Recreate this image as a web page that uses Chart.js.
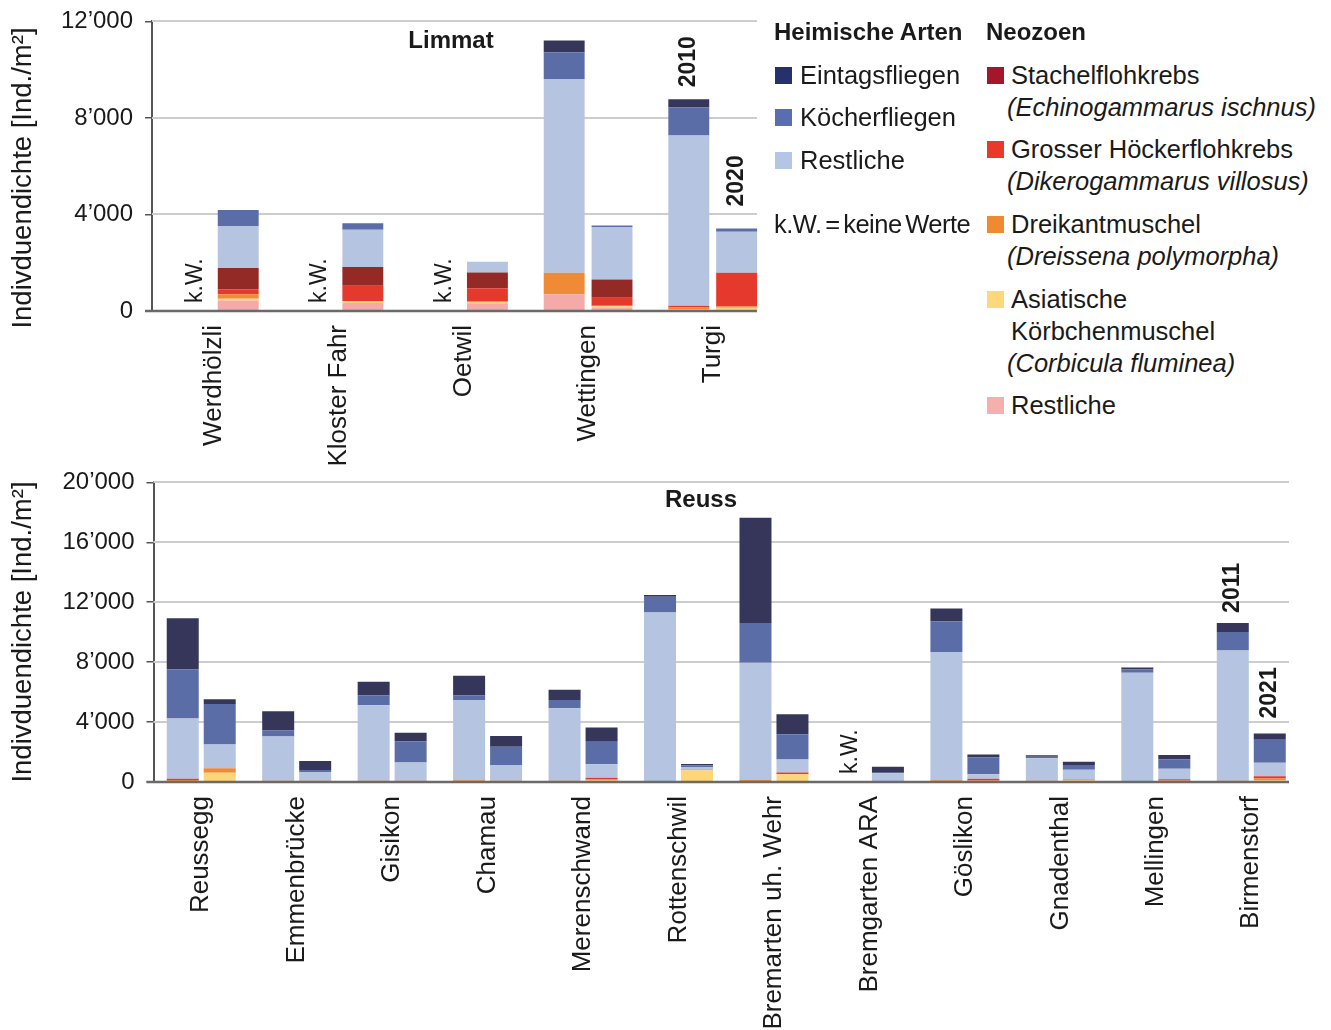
<!DOCTYPE html>
<html>
<head>
<meta charset="utf-8">
<script src="https://cdn.jsdelivr.net/npm/chart.js@4.4.1/dist/chart.umd.min.js"></script>
<style>
body { margin: 0; background: #fff; font-family: "Liberation Sans", Arial, sans-serif; color: #1a1a1a; }
#wrap { position: relative; width: 1331px; height: 1030px; overflow: hidden; }
canvas { position: absolute; }
#limmat { left: 0; top: -5px; }
#reuss { left: 0; top: 456px; }
.lg { position: absolute; font-size: 25.5px; line-height: 30px; white-space: nowrap; }
.b { font-weight: bold; font-size: 24px; }
.i { font-style: italic; }
.sq { position: absolute; width: 17px; height: 17px; }
</style>
</head>
<body>
<div id="wrap">
  <canvas id="limmat" width="800" height="475"></canvas>
  <canvas id="reuss" width="1331" height="574"></canvas>

  <div class="lg b" style="left:774px;top:17px">Heimische Arten</div>
  <div class="lg b" style="left:986px;top:17px">Neozoen</div>

  <div class="sq" style="left:775px;top:67px;background:#26306a"></div>
  <div class="lg" style="left:800px;top:60px">Eintagsfliegen</div>
  <div class="sq" style="left:775px;top:109px;background:#5a6db0"></div>
  <div class="lg" style="left:800px;top:102px">Köcherfliegen</div>
  <div class="sq" style="left:775px;top:152px;background:#b3c6e3"></div>
  <div class="lg" style="left:800px;top:145px">Restliche</div>
  <div class="lg" style="left:774px;top:209px;letter-spacing:-0.5px;word-spacing:-3px">k.W. = keine Werte</div>

  <div class="sq" style="left:987px;top:67px;background:#a3162b"></div>
  <div class="lg" style="left:1011px;top:60px">Stachelflohkrebs</div>
  <div class="lg i" style="left:1007px;top:92px">(Echinogammarus ischnus)</div>
  <div class="sq" style="left:987px;top:141px;background:#e8392b"></div>
  <div class="lg" style="left:1011px;top:134px">Grosser Höckerflohkrebs</div>
  <div class="lg i" style="left:1007px;top:166px">(Dikerogammarus villosus)</div>
  <div class="sq" style="left:987px;top:216px;background:#f08a30"></div>
  <div class="lg" style="left:1011px;top:209px">Dreikantmuschel</div>
  <div class="lg i" style="left:1007px;top:241px">(Dreissena polymorpha)</div>
  <div class="sq" style="left:987px;top:291px;background:#fed77a"></div>
  <div class="lg" style="left:1011px;top:284px">Asiatische</div>
  <div class="lg" style="left:1011px;top:316px">Körbchenmuschel</div>
  <div class="lg i" style="left:1007px;top:348px">(Corbicula fluminea)</div>
  <div class="sq" style="left:987px;top:397px;background:#f5b0ae"></div>
  <div class="lg" style="left:1011px;top:390px">Restliche</div>
</div>

<script>
// ---- Limmat (2010 / 2020), null = k.W.
const limmatSites = ['Werdhölzli', 'Kloster Fahr', 'Oetwil', 'Wettingen', 'Turgi'];
const limmatTicks = [0, 4000, 8000, 12000];

const limEintags10  = [null, null, null, 490, 340];
const limKoecher10  = [null, null, null, 1110, 1160];
const limRestHeim10 = [null, null, null, 8020, 7050];
const limStachel10  = [null, null, null, 0, 0];
const limGrosser10  = [null, null, null, 0, 80];
const limDreikant10 = [null, null, null, 900, 80];
const limAsiat10    = [null, null, null, 0, 0];
const limRestNeo10  = [null, null, null, 690, 60];

const limEintags20  = [0, 0, 0, 0, 0];
const limKoecher20  = [670, 270, 0, 60, 140];
const limRestHeim20 = [1740, 1550, 440, 2170, 1690];
const limStachel20  = [880, 770, 660, 760, 0];
const limGrosser20  = [210, 640, 550, 330, 1400];
const limDreikant20 = [180, 0, 20, 20, 60];
const limAsiat20    = [70, 80, 50, 50, 80];
const limRestNeo20  = [440, 330, 320, 150, 50];

// ---- Reuss (2011 / 2021)
const reussSites = ['Reussegg', 'Emmenbrücke', 'Gisikon', 'Chamau', 'Merenschwand', 'Rottenschwil',
  'Bremarten uh. Wehr', 'Bremgarten ARA', 'Göslikon', 'Gnadenthal', 'Mellingen', 'Birmenstorf'];
const reussTicks = [0, 4000, 8000, 12000, 16000, 20000];

const reuEintags11  = [3420, 1290, 910, 1310, 690, 130, 7020, null, 870, 100, 110, 600];
const reuKoecher11  = [3270, 400, 650, 310, 540, 1050, 2660, null, 2040, 100, 240, 1240];
const reuRestHeim11 = [4020, 2950, 5040, 5360, 4840, 11260, 7830, null, 8560, 1500, 7240, 8690];
const reuStachel11  = [0, 0, 0, 0, 0, 0, 0, null, 0, 0, 0, 0];
const reuGrosser11  = [80, 0, 0, 0, 0, 0, 0, null, 0, 0, 0, 0];
const reuDreikant11 = [140, 90, 90, 110, 90, 50, 100, null, 110, 80, 50, 90];
const reuAsiat11    = [0, 0, 0, 0, 0, 0, 30, null, 0, 0, 0, 0];
const reuRestNeo11  = [0, 0, 0, 0, 0, 0, 0, null, 0, 0, 0, 0];

const reuEintags21  = [330, 600, 580, 710, 950, 90, 1350, 400, 200, 230, 290, 420];
const reuKoecher21  = [2690, 130, 1400, 1230, 1510, 110, 1670, 30, 1130, 310, 620, 1530];
const reuRestHeim21 = [1600, 580, 1220, 1040, 890, 160, 870, 550, 290, 640, 710, 910];
const reuStachel21  = [0, 0, 0, 0, 0, 0, 0, 40, 0, 0, 0, 0];
const reuGrosser21  = [0, 0, 0, 0, 110, 30, 130, 0, 120, 0, 80, 140];
const reuDreikant21 = [290, 90, 90, 90, 80, 30, 0, 0, 100, 80, 100, 120];
const reuAsiat21    = [620, 0, 0, 0, 100, 780, 510, 0, 0, 100, 0, 120];
const reuRestNeo21  = [0, 0, 0, 0, 0, 0, 0, 0, 0, 0, 0, 0];

const yTitle = 'Indivduendichte [Ind./m²]';

const colors = {
  restNeo: '#f3aaa8', asiat: '#fed67a', dreikant: '#ef8a36', grosser: '#e5392e',
  stachel: '#932a26', restHeim: '#b5c4e0', koecher: '#5a6da7', eintags: '#35365a'
};

const fmt = v => String(v).replace(/\B(?=(\d{3})+(?!\d))/g, '’');
const textColor = '#1a1a1a';
const family = '"Liberation Sans", Arial, sans-serif';
Chart.defaults.font.family = family;
Chart.defaults.color = textColor;

// bottom -> top stacking
function yearSets(stack, d) {
  return [
    ['Restliche (Neozoen)', d[0], colors.restNeo],
    ['Asiatische Körbchenmuschel', d[1], colors.asiat],
    ['Dreikantmuschel', d[2], colors.dreikant],
    ['Grosser Höckerflohkrebs', d[3], colors.grosser],
    ['Stachelflohkrebs', d[4], colors.stachel],
    ['Restliche', d[5], colors.restHeim],
    ['Köcherfliegen', d[6], colors.koecher],
    ['Eintagsfliegen', d[7], colors.eintags]
  ].map(([label, data, c]) => ({
    label, data, stack, backgroundColor: c, borderWidth: 0
  }));
}

// gridlines that stop where the reference stops, and the base line
const gridEnd = {
  id: 'gridEnd',
  beforeDatasetsDraw(chart, args, o) {
    const y = chart.scales.y, ctx = chart.ctx, a = chart.chartArea;
    ctx.save();
    ctx.strokeStyle = '#cdcdcd';
    ctx.lineWidth = 2;
    y.ticks.forEach(t => {
      if (t.value === 0) return;
      const py = Math.round(y.getPixelForValue(t.value));
      ctx.beginPath(); ctx.moveTo(a.left, py); ctx.lineTo(o.right, py); ctx.stroke();
    });
    ctx.restore();
  },
  afterDatasetsDraw(chart, args, o) {
    const y = chart.scales.y, ctx = chart.ctx, a = chart.chartArea;
    const py = y.getPixelForValue(0);
    ctx.save();
    ctx.strokeStyle = '#6a6a6a';
    ctx.lineWidth = 2.5;
    ctx.beginPath(); ctx.moveTo(a.left - 7, py); ctx.lineTo(o.right, py); ctx.stroke();
    ctx.restore();
  }
};

function rotText(ctx, text, x, y, font, align) {
  ctx.save();
  ctx.translate(x, y);
  ctx.rotate(-Math.PI / 2);
  ctx.font = font;
  ctx.textAlign = align;
  ctx.textBaseline = 'middle';
  ctx.fillText(text, 0, 0);
  ctx.restore();
}

// axis title, chart titles, k.W. and year labels
const notes = {
  id: 'notes',
  afterDatasetsDraw(chart, args, o) {
    const ctx = chart.ctx, y = chart.scales.y;
    ctx.save();
    ctx.fillStyle = textColor;
    if (o.yTitle) rotText(ctx, yTitle, o.yTitle.x, o.yTitle.y, '27.5px ' + family, 'center');
    (o.titles || []).forEach(t => {
      ctx.font = 'bold 24px ' + family;
      ctx.textAlign = 'center';
      ctx.textBaseline = 'middle';
      ctx.fillText(t.text, t.x, t.y);
    });
    (o.marks || []).forEach(m => {
      const sets = chart.data.datasets;
      const idx = sets.findIndex(d => d.stack === m.stack);
      const el = chart.getDatasetMeta(idx).data[m.i];
      let total = 0;
      sets.forEach(d => { if (d.stack === m.stack) total += d.data[m.i] || 0; });
      const py = y.getPixelForValue(total) - m.gap;
      rotText(ctx, m.text, el.x + (m.dx || 0), py, (m.bold ? 'bold ' : '') + '23px ' + family, 'left');
    });
    ctx.restore();
  }
};

function options(c) {
  return {
    responsive: false,
    animation: false,
    layout: { padding: { top: c.padTop, right: c.padRight, left: 0, bottom: 0 } },
    datasets: { bar: { categoryPercentage: c.catPct, barPercentage: c.barPct } },
    plugins: {
      legend: { display: false },
      tooltip: { enabled: false },
      gridEnd: { right: c.gridRight },
      notes: { titles: c.titles, marks: c.marks, yTitle: c.yTitle }
    },
    scales: {
      x: {
        stacked: true,
        grid: { display: false, drawTicks: false },
        border: { display: false },
        ticks: { autoSkip: false, minRotation: 90, maxRotation: 90, padding: 14, font: { size: 26 } },
        afterFit: s => { s.height = c.xHeight; }
      },
      y: {
        stacked: true,
        min: 0,
        max: c.ticks[c.ticks.length - 1],
        afterBuildTicks: s => { s.ticks = c.ticks.map(v => ({ value: v })); },
        ticks: { callback: v => fmt(v), padding: 12, font: { size: 24 } },
        grid: { drawOnChartArea: false, tickLength: 7, color: '#555', lineWidth: 1.5 },
        border: { color: '#555', width: 2 },
        afterFit: s => { s.width = c.yWidth; }
      }
    }
  };
}

new Chart(document.getElementById('limmat'), {
  type: 'bar',
  data: {
    labels: limmatSites,
    datasets: [
      ...yearSets('2010', [limRestNeo10, limAsiat10, limDreikant10, limGrosser10, limStachel10, limRestHeim10, limKoecher10, limEintags10]),
      ...yearSets('2020', [limRestNeo20, limAsiat20, limDreikant20, limGrosser20, limStachel20, limRestHeim20, limKoecher20, limEintags20])
    ]
  },
  options: options({
    padTop: 25, padRight: 25, yWidth: 152, xHeight: 159, gridRight: 757,
    catPct: 0.768, barPct: 0.855, ticks: limmatTicks,
    yTitle: { x: 23, y: 183 },
    titles: [{ text: 'Limmat', x: 451, y: 46 }],
    marks: [
      { text: 'k.W.', stack: '2010', i: 0, gap: 8, dx: 5 },
      { text: 'k.W.', stack: '2010', i: 1, gap: 8, dx: 5 },
      { text: 'k.W.', stack: '2010', i: 2, gap: 8, dx: 5 },
      { text: '2010', stack: '2010', i: 4, gap: 12, bold: true },
      { text: '2020', stack: '2020', i: 4, gap: 22, bold: true }
    ]
  }),
  plugins: [gridEnd, notes]
});

new Chart(document.getElementById('reuss'), {
  type: 'bar',
  data: {
    labels: reussSites,
    datasets: [
      ...yearSets('2011', [reuRestNeo11, reuAsiat11, reuDreikant11, reuGrosser11, reuStachel11, reuRestHeim11, reuKoecher11, reuEintags11]),
      ...yearSets('2021', [reuRestNeo21, reuAsiat21, reuDreikant21, reuGrosser21, reuStachel21, reuRestHeim21, reuKoecher21, reuEintags21])
    ]
  },
  options: options({
    padTop: 25, padRight: 32, yWidth: 153.5, xHeight: 248, gridRight: 1289,
    catPct: 0.775, barPct: 0.865, ticks: reussTicks,
    yTitle: { x: 23, y: 176 },
    titles: [{ text: 'Reuss', x: 701, y: 44 }],
    marks: [
      { text: 'k.W.', stack: '2011', i: 7, gap: 8, dx: 0 },
      { text: '2011', stack: '2011', i: 11, gap: 10, bold: true },
      { text: '2021', stack: '2021', i: 11, gap: 15, bold: true }
    ]
  }),
  plugins: [gridEnd, notes]
});
</script>
</body>
</html>
